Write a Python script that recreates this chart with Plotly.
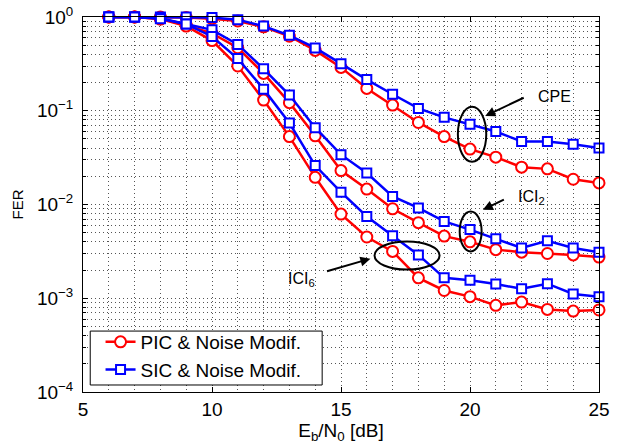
import plotly.graph_objects as go

ebn0 = [6, 7, 8, 9, 10, 11, 12, 13, 14, 15, 16, 17, 18, 19, 20, 21, 22, 23, 24, 25]

pic_cpe = [1.0, 1.0, 1.0, 0.99, 0.96, 0.906, 0.785, 0.623, 0.44, 0.29, 0.173, 0.115, 0.075, 0.053,
           0.039, 0.032, 0.025, 0.024, 0.0186, 0.017]
sic_cpe = [1.0, 1.0, 1.0, 1.0, 0.985, 0.937, 0.80, 0.638, 0.468, 0.318, 0.215, 0.15, 0.106, 0.085,
           0.072, 0.060, 0.047, 0.047, 0.044, 0.040]
pic_ici2 = [1.0, 1.0, 0.96, 0.82, 0.67, 0.47, 0.25, 0.122, 0.054, 0.023, 0.0146, 0.009, 0.0064, 0.0046,
            0.0040, 0.0033, 0.0031, 0.0030, 0.0029, 0.00275]
sic_ici2 = [1.0, 1.0, 0.97, 0.84, 0.73, 0.51, 0.28, 0.147, 0.066, 0.034, 0.0217, 0.0122, 0.0092, 0.0066,
            0.0054, 0.0043, 0.00344, 0.0041, 0.00344, 0.0031]
pic_ici6 = [1.0, 1.0, 0.95, 0.80, 0.56, 0.30, 0.13, 0.053, 0.0195, 0.0079, 0.0045, 0.00316, 0.00165, 0.00121,
            0.00104, 0.00084, 0.00091, 0.00076, 0.00073, 0.00075]
sic_ici6 = [1.0, 1.0, 0.96, 0.84, 0.62, 0.36, 0.17, 0.074, 0.026, 0.01355, 0.00745, 0.00465, 0.0029, 0.00165,
            0.00156, 0.00142, 0.00126, 0.00143, 0.00111, 0.00104]

legend_names = ["PIC & Noise Modif.", "SIC & Noise Modif."]
ytick_vals = [1e-4, 1e-3, 1e-2, 1e-1, 1]
ytick_text = ["10<sup>−4</sup>", "10<sup>−3</sup>", "10<sup>−2</sup>", "10<sup>−1</sup>", "10<sup>0</sup>"]
xtick_vals = [5, 10, 15, 20, 25]

FONT = "Liberation Sans, Arial, sans-serif"
RED = "#FF0000"
BLUE = "#0000FF"

fig = go.Figure()

for i, ys in enumerate([pic_cpe, pic_ici2, pic_ici6]):
    fig.add_trace(go.Scatter(
        x=ebn0, y=ys, mode="lines+markers", name=legend_names[0], legendgroup="pic",
        showlegend=(i == 0), line=dict(color=RED, width=2.5), cliponaxis=False,
        marker=dict(symbol="circle", size=11, color="white", line=dict(color=RED, width=2)),
    ))
for i, ys in enumerate([sic_cpe, sic_ici2, sic_ici6]):
    fig.add_trace(go.Scatter(
        x=ebn0, y=ys, mode="lines+markers", name=legend_names[1], legendgroup="sic",
        showlegend=(i == 0), line=dict(color=BLUE, width=2.5), cliponaxis=False,
        marker=dict(symbol="square", size=9, color="white", line=dict(color=BLUE, width=2)),
    ))

# ellipses
ell = dict(type="circle", xref="x", yref="y", line=dict(color="black", width=2), layer="above")
fig.add_shape(x0=19.53, x1=20.63, y0=0.0286, y1=0.110, **ell)
fig.add_shape(x0=19.6, x1=20.45, y0=0.00316, y1=0.00843, **ell)
fig.add_shape(x0=16.3, x1=18.82, y0=0.00202, y1=0.00404, **ell)

# legend box
fig.add_shape(type="rect", xref="paper", yref="paper", x0=0.014, x1=0.4635, y0=0.0187, y1=0.1625,
              line=dict(color="black", width=1), fillcolor="white", layer="above")

arr = dict(xref="x", yref="y", axref="x", ayref="y", text="", showarrow=True,
           arrowhead=2, arrowsize=1, arrowwidth=2, arrowcolor="black")
fig.add_annotation(x=20.59, y=-1.056, ax=22.14, ay=-0.854, **arr)
fig.add_annotation(x=20.5, y=-2.056, ax=21.37, ay=-1.94, **arr)
fig.add_annotation(x=16.14, y=-2.578, ax=14.4, ay=-2.716, **arr)

lab = dict(xref="x", yref="y", showarrow=False, font=dict(family=FONT, size=16, color="black"))
fig.add_annotation(x=23.27, y=-0.845, text="CPE", **lab)
fig.add_annotation(x=22.4, y=-1.92, text="ICI<sub>2</sub>", **lab)
fig.add_annotation(x=13.45, y=-2.8, text="ICI<sub>6</sub>", **lab)

grid_dash = "1px,3px"
fig.update_xaxes(
    range=[5, 25], tickvals=xtick_vals, ticks="inside", ticklen=5, tickcolor="black",
    showline=True, linecolor="black", linewidth=1, mirror="ticks", automargin=False,
    showgrid=True, gridcolor="#555555", gridwidth=1, griddash=grid_dash, zeroline=False,
    minor=dict(dtick=1, showgrid=True, gridcolor="#555555", griddash=grid_dash, ticks=""),
    tickfont=dict(family=FONT, size=19, color="black"), ticklabelstandoff=0,
    ticklabeloverflow="allow",
    title=dict(text="E<sub>b</sub>/N<sub>0</sub> [dB]", font=dict(family=FONT, size=19, color="black"), standoff=2),
)
fig.update_yaxes(
    type="log", range=[-4, 0], tickvals=ytick_vals, ticktext=ytick_text,
    ticks="inside", ticklen=5, tickcolor="black",
    showline=True, linecolor="black", linewidth=1, mirror="ticks", automargin=False,
    showgrid=True, gridcolor="#555555", gridwidth=1, griddash=grid_dash, zeroline=False,
    minor=dict(dtick="D1", showgrid=True, gridcolor="#555555", griddash=grid_dash,
               ticks="inside", ticklen=3, tickcolor="black"),
    tickfont=dict(family=FONT, size=19, color="black"), ticklabelstandoff=5,
    ticklabeloverflow="allow",
    title=dict(text="FER", font=dict(family=FONT, size=15, color="black"), standoff=9),
)

fig.update_layout(
    width=633, height=448,
    margin=dict(l=83, r=34, t=17, b=56, autoexpand=False),
    paper_bgcolor="white", plot_bgcolor="white",
    showlegend=True,
    legend=dict(x=0.034, y=0.184, xanchor="left", yanchor="top",
                bgcolor="rgba(0,0,0,0)", borderwidth=0,
                font=dict(family=FONT, size=19, color="black"),
                tracegroupgap=0),
)

# remove the browser's default 8px body margin so the figure sits at the page origin
fig.write_html("out.html", config={"displayModeBar": False},
               post_script="document.body.style.margin='0';")
